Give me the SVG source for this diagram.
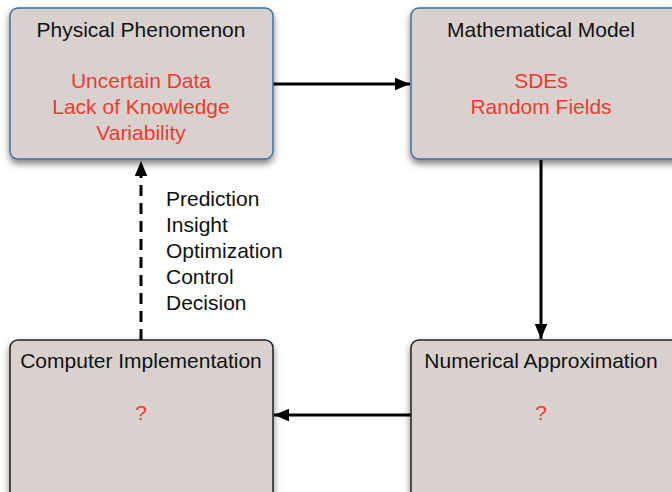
<svg xmlns="http://www.w3.org/2000/svg" width="672" height="492" viewBox="0 0 672 492">
<style>
.box{fill:#d8d1ce;stroke-width:1.5}
.top{stroke:#3f6f9f}
.bot{stroke:#222}
text{font-family:"Liberation Sans",Arial,sans-serif;font-size:21px}
.t{fill:#111;text-anchor:middle}
.r{fill:#ee3b2f;text-anchor:middle}
.l{fill:#111}
.c{stroke:#000;stroke-width:3;fill:none}
</style>
<defs>
<filter id="sh" x="-10%" y="-10%" width="120%" height="130%">
<feDropShadow dx="0" dy="4" stdDeviation="3.5" flood-color="#000" flood-opacity="0.5"/>
</filter>
<marker id="a" viewBox="0 0 12 10" refX="12" refY="5" markerWidth="5" markerHeight="4.2" orient="auto">
<path d="M0,0 L12,5 L0,10 z" fill="#000"/>
</marker>
</defs>
<g id="connectors">
<line class="c" x1="273" y1="84" x2="410" y2="84" marker-end="url(#a)"/>
<line class="c" x1="541" y1="160" x2="541" y2="339" marker-end="url(#a)"/>
<line class="c" x1="411" y1="415" x2="274" y2="415" marker-end="url(#a)"/>
<line class="c" x1="141" y1="340" x2="141" y2="161" stroke-dasharray="11,7" marker-end="url(#a)"/>
</g>
<g id="physical">
<rect class="box top" x="10" y="8" width="263" height="151" rx="8" filter="url(#sh)"/>
<text class="t" x="141" y="37">Physical Phenomenon</text>
<text class="r" x="141" y="88">Uncertain Data</text>
<text class="r" x="141" y="114">Lack of Knowledge</text>
<text class="r" x="141" y="140">Variability</text>
</g>
<g id="model">
<rect class="box top" x="411" y="8" width="270" height="151" rx="8" filter="url(#sh)"/>
<text class="t" x="541" y="37">Mathematical Model</text>
<text class="r" x="541" y="88">SDEs</text>
<text class="r" x="541" y="114">Random Fields</text>
</g>
<g id="computer">
<rect class="box bot" x="10" y="340" width="263" height="160" rx="8" filter="url(#sh)"/>
<text class="t" x="141" y="368">Computer Implementation</text>
<text class="r" x="141" y="420">?</text>
</g>
<g id="numerical">
<rect class="box bot" x="411" y="340" width="270" height="160" rx="8" filter="url(#sh)"/>
<text class="t" x="541" y="368">Numerical Approximation</text>
<text class="r" x="541" y="420">?</text>
</g>
<g id="labels">
<text class="l" x="166" y="206">Prediction</text>
<text class="l" x="166" y="232">Insight</text>
<text class="l" x="166" y="258">Optimization</text>
<text class="l" x="166" y="284">Control</text>
<text class="l" x="166" y="310">Decision</text>
</g>
</svg>
